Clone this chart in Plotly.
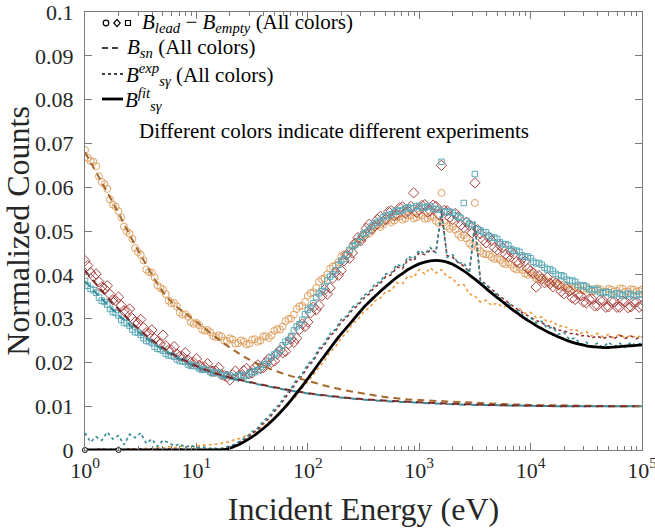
import plotly.graph_objects as go

# ---------------- data ----------------
# fine energy grid (markers)
energy_fine = [
    1, 1.059, 1.122, 1.189, 1.259, 1.334, 1.413, 1.496, 1.585, 1.679, 1.778, 1.884, 1.995, 2.113, 2.239, 2.371, 2.512, 2.661, 2.818, 2.985,
    3.162, 3.350, 3.548, 3.758, 3.981, 4.217, 4.467, 4.732, 5.012, 5.309, 5.623, 5.957, 6.310, 6.683, 7.079, 7.499, 7.943, 8.414, 8.913, 9.441,
    10, 10.59, 11.22, 11.89, 12.59, 13.34, 14.13, 14.96, 15.85, 16.79, 17.78, 18.84, 19.95, 21.13, 22.39, 23.71, 25.12, 26.61, 28.18, 29.85,
    31.62, 33.50, 35.48, 37.58, 39.81, 42.17, 44.67, 47.32, 50.12, 53.09, 56.23, 59.57, 63.10, 66.83, 70.79, 74.99, 79.43, 84.14, 89.13, 94.41,
    100, 105.9, 112.2, 118.9, 125.9, 133.4, 141.3, 149.6, 158.5, 167.9, 177.8, 188.4, 199.5, 211.3, 223.9, 237.1, 251.2, 266.1, 281.8, 298.5,
    316.2, 335.0, 354.8, 375.8, 398.1, 421.7, 446.7, 473.2, 501.2, 530.9, 562.3, 595.7, 631.0, 668.3, 707.9, 749.9, 794.3, 841.4, 891.3, 944.1,
    1000, 1059, 1122, 1189, 1259, 1334, 1413, 1496, 1585, 1679, 1778, 1884, 1995, 2113, 2239, 2371, 2512, 2661, 2818, 2985,
    3162, 3350, 3548, 3758, 3981, 4217, 4467, 4732, 5012, 5309, 5623, 5957, 6310, 6683, 7079, 7499, 7943, 8414, 8913, 9441,
    10000, 10590, 11220, 11890, 12590, 13340, 14130, 14960, 15850, 16790, 17780, 18840, 19950, 21130, 22390, 23710, 25120, 26610, 28180, 29850,
    31620, 33500, 35480, 37580, 39810, 42170, 44670, 47320, 50120, 53090, 56230, 59570, 63100, 66830, 70790, 74990, 79430, 84140, 89130, 94410,
    100000]

# coarse energy grid (dotted curves and fit)
energy = [1, 1.122, 1.259, 1.413, 1.585, 1.778, 1.995, 2.239, 2.512, 2.818,
          3.162, 3.548, 3.981, 4.467, 5.012, 5.623, 6.310, 7.079, 7.943, 8.913,
          10, 11.22, 12.59, 14.13, 15.85, 17.78, 19.95, 22.39, 25.12, 28.18,
          31.62, 35.48, 39.81, 44.67, 50.12, 56.23, 63.10, 70.79, 79.43, 89.13,
          100, 112.2, 125.9, 141.3, 158.5, 177.8, 199.5, 223.9, 251.2, 281.8,
          316.2, 354.8, 398.1, 446.7, 501.2, 562.3, 631.0, 707.9, 794.3, 891.3,
          1000, 1122, 1259, 1413, 1585, 1778, 1995, 2239, 2512, 2818,
          3162, 3548, 3981, 4467, 5012, 5623, 6310, 7079, 7943, 8913,
          10000, 11220, 12590, 14130, 15850, 17780, 19950, 22390, 25120, 28180,
          31620, 35480, 39810, 44670, 50120, 56230, 63100, 70790, 79430, 89130,
          100000]

# B_lead - B_empty, three experiments
lead_orange = [
    0.0685, 0.0667, 0.0660, 0.0658, 0.0648, 0.0625, 0.0612, 0.0607, 0.0596, 0.0572,
    0.0560, 0.0556, 0.0545, 0.0531, 0.0510, 0.0499, 0.0494, 0.0482, 0.0461, 0.0452,
    0.0446, 0.0433, 0.0412, 0.0406, 0.0405, 0.0394, 0.0376, 0.0370, 0.0367, 0.0356,
    0.0341, 0.0335, 0.0336, 0.0328, 0.0314, 0.0309, 0.0310, 0.0304, 0.0292, 0.0288,
    0.0290, 0.0285, 0.0275, 0.0272, 0.0274, 0.0269, 0.0260, 0.0258, 0.0262, 0.0259,
    0.0250, 0.0249, 0.0255, 0.0252, 0.0243, 0.0244, 0.0250, 0.0247, 0.0241, 0.0243,
    0.0252, 0.0253, 0.0247, 0.0250, 0.0259, 0.0260, 0.0256, 0.0262, 0.0272, 0.0276,
    0.0275, 0.0282, 0.0294, 0.0299, 0.0300, 0.0309, 0.0322, 0.0328, 0.0329, 0.0338,
    0.0352, 0.0358, 0.0360, 0.0370, 0.0384, 0.0390, 0.0392, 0.0401, 0.0414, 0.0419,
    0.0421, 0.0429, 0.0442, 0.0446, 0.0446, 0.0454, 0.0466, 0.0472, 0.0474, 0.0481,
    0.0492, 0.0496, 0.0494, 0.0500, 0.0510, 0.0513, 0.0509, 0.0514, 0.0523, 0.0525,
    0.0520, 0.0524, 0.0532, 0.0533, 0.0526, 0.0529, 0.0536, 0.0536, 0.0529, 0.0531,
    0.0537, 0.0535, 0.0528, 0.0529, 0.0534, 0.0532, 0.0523, 0.0518, 0.0587, 0.0520,
    0.0511, 0.0505, 0.0510, 0.0503, 0.0492, 0.0486, 0.0490, 0.0483, 0.0472, 0.0466,
    0.0564, 0.0462, 0.0454, 0.0448, 0.0447, 0.0446, 0.0440, 0.0436, 0.0438, 0.0434,
    0.0427, 0.0424, 0.0428, 0.0423, 0.0415, 0.0412, 0.0416, 0.0411, 0.0403, 0.0400,
    0.0404, 0.0399, 0.0392, 0.0390, 0.0394, 0.0389, 0.0383, 0.0381, 0.0386, 0.0380,
    0.0375, 0.0373, 0.0378, 0.0374, 0.0369, 0.0367, 0.0373, 0.0370, 0.0365, 0.0364,
    0.0370, 0.0368, 0.0362, 0.0363, 0.0369, 0.0367, 0.0361, 0.0362, 0.0368, 0.0366,
    0.0362, 0.0363, 0.0369, 0.0368, 0.0361, 0.0362, 0.0367, 0.0366, 0.0362, 0.0363,
    0.0366]
lead_red = [
    0.0432, 0.0421, 0.0405, 0.0396, 0.0402, 0.0384, 0.0372, 0.0368, 0.0375, 0.0355,
    0.0343, 0.0341, 0.0349, 0.0330, 0.0318, 0.0316, 0.0322, 0.0300, 0.0292, 0.0290,
    0.0298, 0.0279, 0.0268, 0.0266, 0.0274, 0.0254, 0.0247, 0.0242, 0.0262, 0.0238,
    0.0228, 0.0228, 0.0236, 0.0219, 0.0214, 0.0213, 0.0222, 0.0205, 0.0200, 0.0200,
    0.0208, 0.0193, 0.0190, 0.0190, 0.0197, 0.0181, 0.0180, 0.0180, 0.0188, 0.0172,
    0.0170, 0.0168, 0.0160, 0.0172, 0.0180, 0.0168, 0.0170, 0.0181, 0.0186, 0.0174,
    0.0176, 0.0188, 0.0194, 0.0186, 0.0188, 0.0201, 0.0208, 0.0200, 0.0203, 0.0219,
    0.0228, 0.0222, 0.0225, 0.0242, 0.0254, 0.0246, 0.0255, 0.0275, 0.0288, 0.0282,
    0.0292, 0.0313, 0.0326, 0.0320, 0.0330, 0.0352, 0.0366, 0.0356, 0.0370, 0.0392,
    0.0406, 0.0399, 0.0410, 0.0432, 0.0446, 0.0438, 0.0450, 0.0472, 0.0485, 0.0478,
    0.0488, 0.0506, 0.0515, 0.0505, 0.0511, 0.0526, 0.0533, 0.0522, 0.0527, 0.0544,
    0.0546, 0.0535, 0.0538, 0.0553, 0.0555, 0.0541, 0.0545, 0.0556, 0.0587, 0.0543,
    0.0548, 0.0558, 0.0560, 0.0543, 0.0546, 0.0559, 0.0556, 0.0538, 0.0650, 0.0547,
    0.0546, 0.0531, 0.0526, 0.0540, 0.0532, 0.0514, 0.0508, 0.0520, 0.0513, 0.0496,
    0.0610, 0.0503, 0.0494, 0.0480, 0.0473, 0.0486, 0.0478, 0.0462, 0.0457, 0.0467,
    0.0462, 0.0447, 0.0442, 0.0452, 0.0448, 0.0430, 0.0427, 0.0437, 0.0431, 0.0414,
    0.0409, 0.0404, 0.0372, 0.0398, 0.0390, 0.0382, 0.0394, 0.0380, 0.0373, 0.0381,
    0.0378, 0.0362, 0.0357, 0.0368, 0.0363, 0.0347, 0.0344, 0.0355, 0.0352, 0.0338,
    0.0336, 0.0344, 0.0345, 0.0329, 0.0330, 0.0342, 0.0341, 0.0326, 0.0327, 0.0340,
    0.0339, 0.0326, 0.0326, 0.0341, 0.0339, 0.0325, 0.0327, 0.0339, 0.0338, 0.0326,
    0.0330]
lead_teal = [
    0.0386, 0.0375, 0.0368, 0.0365, 0.0359, 0.0348, 0.0341, 0.0338, 0.0332, 0.0322,
    0.0315, 0.0313, 0.0307, 0.0297, 0.0291, 0.0289, 0.0284, 0.0275, 0.0269, 0.0268,
    0.0263, 0.0255, 0.0249, 0.0248, 0.0244, 0.0236, 0.0231, 0.0230, 0.0227, 0.0220,
    0.0216, 0.0216, 0.0213, 0.0207, 0.0203, 0.0203, 0.0201, 0.0195, 0.0192, 0.0193,
    0.0191, 0.0186, 0.0183, 0.0184, 0.0183, 0.0178, 0.0175, 0.0177, 0.0176, 0.0171,
    0.0169, 0.0171, 0.0171, 0.0167, 0.0166, 0.0169, 0.0171, 0.0168, 0.0170, 0.0175,
    0.0179, 0.0178, 0.0182, 0.0190, 0.0195, 0.0196, 0.0202, 0.0212, 0.0218, 0.0221,
    0.0228, 0.0239, 0.0247, 0.0251, 0.0260, 0.0273, 0.0282, 0.0287, 0.0297, 0.0310,
    0.0320, 0.0325, 0.0335, 0.0349, 0.0358, 0.0363, 0.0373, 0.0387, 0.0396, 0.0401,
    0.0410, 0.0423, 0.0432, 0.0436, 0.0445, 0.0457, 0.0465, 0.0468, 0.0476, 0.0487,
    0.0494, 0.0496, 0.0503, 0.0512, 0.0518, 0.0519, 0.0523, 0.0531, 0.0535, 0.0535,
    0.0538, 0.0544, 0.0547, 0.0545, 0.0547, 0.0552, 0.0554, 0.0551, 0.0552, 0.0557,
    0.0557, 0.0553, 0.0553, 0.0556, 0.0556, 0.0551, 0.0550, 0.0549, 0.0658, 0.0545,
    0.0543, 0.0544, 0.0542, 0.0535, 0.0532, 0.0530, 0.0564, 0.0522, 0.0517, 0.0513,
    0.0630, 0.0504, 0.0501, 0.0497, 0.0497, 0.0489, 0.0485, 0.0485, 0.0482, 0.0474,
    0.0470, 0.0470, 0.0467, 0.0459, 0.0455, 0.0455, 0.0452, 0.0444, 0.0441, 0.0442,
    0.0438, 0.0430, 0.0426, 0.0427, 0.0423, 0.0416, 0.0412, 0.0413, 0.0409, 0.0402,
    0.0398, 0.0399, 0.0396, 0.0389, 0.0386, 0.0387, 0.0384, 0.0377, 0.0374, 0.0376,
    0.0373, 0.0367, 0.0365, 0.0368, 0.0365, 0.0360, 0.0358, 0.0361, 0.0360, 0.0355,
    0.0354, 0.0358, 0.0357, 0.0353, 0.0352, 0.0357, 0.0356, 0.0351, 0.0352, 0.0356,
    0.0355]

# B_sn (dashed, smooth)
sn_energy = [1, 1.778, 3.162, 5.623, 10, 17.78, 31.62, 56.23, 100, 177.8, 316.2, 562.3,
             1000, 1778, 3162, 5623, 10000, 17780, 31620, 56230, 100000]
sn_orange = [0.0680, 0.0565, 0.0445, 0.0345, 0.0293, 0.0243, 0.0203, 0.0177, 0.0158, 0.0141, 0.0129,
             0.0119, 0.0114, 0.0111, 0.0108, 0.0105, 0.0103, 0.0102, 0.0101, 0.0100, 0.0100]
sn_red = [0.0410, 0.0335, 0.0272, 0.0225, 0.0192, 0.0169, 0.0154, 0.0141, 0.0130, 0.0122, 0.0116,
          0.0112, 0.0109, 0.0106, 0.0104, 0.0102, 0.0101, 0.0100, 0.0100, 0.0100, 0.0100]
sn_teal = [0.0385, 0.0320, 0.0265, 0.0221, 0.0190, 0.0168, 0.0153, 0.0140, 0.0129, 0.0121, 0.0115,
           0.0111, 0.0108, 0.0105, 0.0103, 0.0102, 0.0101, 0.0100, 0.0100, 0.0100, 0.0100]

# B_s-gamma experimental (dotted)
sg_teal = [0.0039, 0.0018, 0.0030, 0.0022, 0.0041, 0.0025, 0.0033, 0.0012, 0.0036, 0.0028,
           0.0039, 0.0015, 0.0025, 0.0008, 0.0022, 0.0017, 0.0009, 0.0014, 0.0006, 0.0011,
           0.0004, 0.0008, 0.0003, 0.0005, 0.0002, 0.0005, 0.0009, 0.0014, 0.0022, 0.0030,
           0.0042, 0.0050, 0.0066, 0.0076, 0.0094, 0.0106, 0.0126, 0.0140, 0.0162, 0.0174,
           0.0196, 0.0208, 0.0232, 0.0244, 0.0266, 0.0276, 0.0298, 0.0306, 0.0326, 0.0334,
           0.0352, 0.0360, 0.0378, 0.0384, 0.0402, 0.0404, 0.0424, 0.0418, 0.0442, 0.0436,
           0.0456, 0.0448, 0.0462, 0.0450, 0.0552, 0.0440, 0.0446, 0.0426, 0.0428, 0.0404,
           0.0522, 0.0382, 0.0380, 0.0360, 0.0356, 0.0338, 0.0336, 0.0318, 0.0318, 0.0300,
           0.0302, 0.0290, 0.0294, 0.0278, 0.0280, 0.0264, 0.0268, 0.0252, 0.0256, 0.0240,
           0.0246, 0.0236, 0.0244, 0.0234, 0.0246, 0.0236, 0.0244, 0.0234, 0.0246, 0.0238,
           0.0246]
sg_red = [0.0002, 0.0000, 0.0001, 0.0003, 0.0000, 0.0002, 0.0001, 0.0000, 0.0003, 0.0001,
          0.0002, 0.0000, 0.0003, 0.0001, 0.0000, 0.0002, 0.0001, 0.0003, 0.0000, 0.0002,
          0.0001, 0.0002, 0.0000, 0.0001, 0.0002, 0.0004, 0.0008, 0.0012, 0.0020, 0.0026,
          0.0038, 0.0046, 0.0060, 0.0072, 0.0088, 0.0102, 0.0120, 0.0136, 0.0156, 0.0170,
          0.0190, 0.0204, 0.0226, 0.0240, 0.0260, 0.0272, 0.0292, 0.0302, 0.0320, 0.0330,
          0.0346, 0.0356, 0.0372, 0.0380, 0.0396, 0.0400, 0.0418, 0.0414, 0.0436, 0.0432,
          0.0450, 0.0446, 0.0456, 0.0452, 0.0540, 0.0444, 0.0440, 0.0428, 0.0420, 0.0406,
          0.0510, 0.0388, 0.0378, 0.0366, 0.0356, 0.0346, 0.0336, 0.0326, 0.0318, 0.0310,
          0.0302, 0.0296, 0.0290, 0.0284, 0.0280, 0.0274, 0.0272, 0.0266, 0.0266, 0.0260,
          0.0262, 0.0256, 0.0260, 0.0254, 0.0260, 0.0254, 0.0262, 0.0255, 0.0260, 0.0254,
          0.0258]
sg_orange = [0.0000, 0.0001, 0.0000, 0.0002, 0.0000, 0.0001, 0.0002, 0.0000, 0.0001, 0.0003,
             0.0002, 0.0004, 0.0003, 0.0006, 0.0004, 0.0008, 0.0005, 0.0009, 0.0006, 0.0010,
             0.0008, 0.0012, 0.0010, 0.0014, 0.0013, 0.0018, 0.0018, 0.0025, 0.0026, 0.0034,
             0.0037, 0.0046, 0.0052, 0.0064, 0.0072, 0.0086, 0.0096, 0.0112, 0.0124, 0.0142,
             0.0156, 0.0172, 0.0190, 0.0204, 0.0224, 0.0236, 0.0256, 0.0268, 0.0288, 0.0298,
             0.0316, 0.0324, 0.0340, 0.0346, 0.0362, 0.0364, 0.0382, 0.0380, 0.0398, 0.0394,
             0.0412, 0.0402, 0.0416, 0.0404, 0.0412, 0.0396, 0.0392, 0.0376, 0.0378, 0.0356,
             0.0352, 0.0338, 0.0342, 0.0330, 0.0336, 0.0326, 0.0330, 0.0318, 0.0322, 0.0312,
             0.0314, 0.0302, 0.0304, 0.0292, 0.0294, 0.0282, 0.0284, 0.0274, 0.0276, 0.0266,
             0.0270, 0.0260, 0.0266, 0.0258, 0.0264, 0.0256, 0.0264, 0.0256, 0.0262, 0.0256,
             0.0262]

# B_s-gamma fit (solid black)
fit = [0, 0, 0, 0, 0, 0, 0, 0, 0, 0,
       0, 0, 0, 0, 0, 0, 0, 0, 0, 0,
       0, 0, 0, 0, 0, 0.0001, 0.0004, 0.0009, 0.0015, 0.0022,
       0.0030, 0.0039, 0.0049, 0.0060, 0.0072, 0.0085, 0.0099, 0.0114, 0.0130, 0.0146,
       0.0163, 0.0180, 0.0198, 0.0215, 0.0232, 0.0249, 0.0265, 0.0280, 0.0295, 0.0310,
       0.0325, 0.0338, 0.0350, 0.0362, 0.0373, 0.0384, 0.0394, 0.0403, 0.0412, 0.0419,
       0.0425, 0.0429, 0.0432, 0.0433, 0.0432, 0.0429, 0.0424, 0.0417, 0.0409, 0.0400,
       0.0390, 0.0380, 0.0369, 0.0358, 0.0348, 0.0338, 0.0328, 0.0318, 0.0309, 0.0300,
       0.0292, 0.0284, 0.0277, 0.0270, 0.0264, 0.0258, 0.0253, 0.0248, 0.0244, 0.0241,
       0.0238, 0.0236, 0.0235, 0.0234, 0.0234, 0.0235, 0.0236, 0.0237, 0.0238, 0.0239,
       0.0240]
fit_marker_energy = [1, 2]
fit_marker_value = [0, 0]

x_tickvals = [1, 10, 100, 1000, 10000, 100000]
x_ticktext = ["10<sup>0</sup>", "10<sup>1</sup>", "10<sup>2</sup>",
              "10<sup>3</sup>", "10<sup>4</sup>", "10<sup>5</sup>"]
x_minor = [m * d for d in [1, 10, 100, 1000, 10000] for m in range(2, 10)]

# ---------------- styles ----------------
C_OR_M, C_RD_M, C_TL_M = "#DFA263", "#A9423F", "#5CAAB8"
C_OR_D, C_RD_D, C_TL_D = "#A5692E", "#7A2B2B", "#3A8A97"
C_OR_S, C_RD_S, C_TL_S = "#EE9B3C", "#8E3030", "#2F8A96"
FONT = "Liberation Serif"
TXT = "#262626"

fig = go.Figure()

for y, c, sym, sz in [(lead_orange, C_OR_M, "circle-open", 7),
                      (lead_red, C_RD_M, "diamond-open", 8),
                      (lead_teal, C_TL_M, "square-open", 5.5)]:
    fig.add_trace(go.Scatter(x=energy_fine, y=y, mode="markers", showlegend=False,
                             marker=dict(symbol=sym, size=sz, color=c,
                                         line=dict(width=1, color=c))))

for y, c in [(sg_orange, C_OR_S), (sg_red, C_RD_S), (sg_teal, C_TL_S)]:
    fig.add_trace(go.Scatter(x=energy, y=y, mode="lines", showlegend=False,
                             line=dict(color=c, width=1.6, dash="dot")))

for y, c in [(sn_orange, C_OR_D), (sn_teal, C_TL_D), (sn_red, C_RD_D)]:
    fig.add_trace(go.Scatter(x=sn_energy, y=y, mode="lines", showlegend=False,
                             line=dict(color=c, width=2, dash="7px,5px", shape="spline")))

fig.add_trace(go.Scatter(x=energy, y=fit, mode="lines", showlegend=False,
                         line=dict(color="black", width=2.8, shape="spline", smoothing=0.6)))
fig.add_trace(go.Scatter(x=fit_marker_energy, y=fit_marker_value, mode="markers",
                         showlegend=False, cliponaxis=False,
                         marker=dict(symbol="circle", size=5, color="white",
                                     line=dict(color="black", width=1))))

AX = "#7a7a7a"
fig.update_xaxes(type="log", range=[0, 5], tickmode="array", tickvals=x_tickvals,
                 ticktext=x_ticktext, ticks="inside", ticklen=7, tickwidth=1,
                 tickcolor=AX, showline=True, linecolor=AX, linewidth=1.2,
                 mirror="allticks", showgrid=False, zeroline=False,
                 automargin=False, ticklabeloverflow="allow",
                 tickfont=dict(family=FONT, size=22, color=TXT),
                 minor=dict(tickmode="array", tickvals=x_minor, ticks="inside",
                            ticklen=4, tickcolor=AX, showgrid=False),
                 title=dict(text="Incident Energy (eV)", standoff=16,
                            font=dict(family=FONT, size=32, color=TXT)))
fig.update_yaxes(range=[0, 0.1], dtick=0.01, ticks="inside", ticklen=7, tickwidth=1,
                 tickcolor=AX, showline=True, linecolor=AX, linewidth=1.2,
                 mirror="allticks", showgrid=False, zeroline=False,
                 automargin=False, ticklabeloverflow="allow",
                 ticklabelstandoff=6,
                 tickfont=dict(family=FONT, size=22, color=TXT),
                 title=dict(text="Normalized Counts", standoff=4,
                            font=dict(family=FONT, size=32, color=TXT)))

# ---------------- custom legend ----------------
L, T, W, H = 85, 12, 557, 438
def px(x):
    return (x - L) / W
def py(y):
    return (T + H - y) / H

shapes = []
rows = [23, 48, 74, 99]
shapes.append(dict(type="circle", xref="paper", yref="paper", xsizemode="pixel", ysizemode="pixel",
                   xanchor=px(106), yanchor=py(rows[0]), x0=-2.8, x1=2.8, y0=-2.8, y1=2.8,
                   line=dict(color="black", width=1.2)))
shapes.append(dict(type="path", xref="paper", yref="paper", xsizemode="pixel", ysizemode="pixel",
                   xanchor=px(117), yanchor=py(rows[0]), path="M0,3.6 L3.2,0 L0,-3.6 L-3.2,0 Z",
                   line=dict(color="black", width=1.2)))
shapes.append(dict(type="rect", xref="paper", yref="paper", xsizemode="pixel", ysizemode="pixel",
                   xanchor=px(128), yanchor=py(rows[0]), x0=-2.5, x1=2.5, y0=-2.5, y1=2.5,
                   line=dict(color="black", width=1.2)))
shapes.append(dict(type="line", xref="paper", yref="paper", x0=px(102), x1=px(121),
                   y0=py(rows[1]), y1=py(rows[1]), line=dict(color="black", width=1.6, dash="6px,4px")))
shapes.append(dict(type="line", xref="paper", yref="paper", x0=px(102), x1=px(124),
                   y0=py(rows[2]), y1=py(rows[2]), line=dict(color="black", width=1.4, dash="dot")))
shapes.append(dict(type="line", xref="paper", yref="paper", x0=px(102), x1=px(123),
                   y0=py(rows[3]), y1=py(rows[3]), line=dict(color="black", width=2.8)))

legend_text = [
    (140, rows[0], "<i>B</i><sub><i>lead</i></sub> − <i>B</i><sub><i>empty</i></sub> (All colors)"),
    (125, rows[1], "<i>B</i><sub><i>sn</i></sub> (All colors)"),
    (124, rows[2], "<i>B</i><sup><i>exp</i></sup><sub><i>sγ</i></sub> (All colors)"),
    (123, rows[3], "<i>B</i><sup><i>fit</i></sup><sub><i>sγ</i></sub>"),
    (137, 131, "Different colors indicate different experiments"),
]
annotations = []
for x, y, t in legend_text:
    annotations.append(dict(xref="paper", yref="paper", x=px(x), y=py(y), text=t,
                            showarrow=False, xanchor="left", yanchor="middle",
                            font=dict(family=FONT, size=21, color="black")))

fig.update_layout(width=655, height=531, margin=dict(l=L, r=655 - L - W, t=T, b=531 - T - H,
                                                     autoexpand=False),
                  plot_bgcolor="white", paper_bgcolor="white",
                  font=dict(family=FONT, size=21), shapes=shapes, annotations=annotations,
                  showlegend=False)

fig.write_html("out.html")
